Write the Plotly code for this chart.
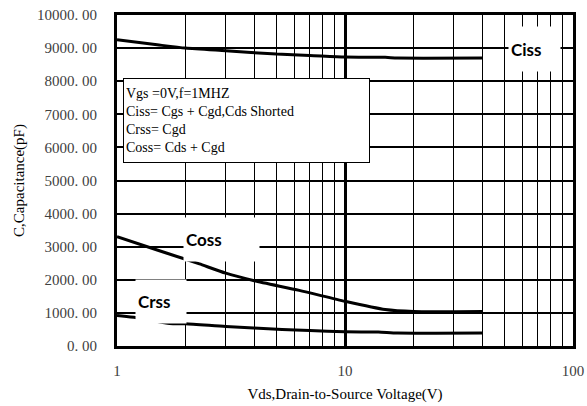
import plotly.graph_objects as go

# Capacitance vs. drain-to-source voltage (Vgs = 0 V, f = 1 MHz)
vds_ciss = [1, 1.5, 2, 3, 5, 7, 10, 15, 17, 40]
ciss = [9250, 9100, 9000, 8920, 8820, 8780, 8730, 8720, 8700, 8700]

vds_coss = [1, 1.5, 2, 2.3, 3, 4, 6.3, 10, 15, 20, 40]
coss = [3300, 2900, 2620, 2480, 2200, 1970, 1680, 1350, 1100, 1040, 1040]

vds_crss = [1, 1.3, 1.7, 2, 3, 5.3, 7, 10, 14, 17, 40]
crss = [920, 830, 680, 670, 590, 500, 470, 430, 420, 390, 390]

y_ticks = list(range(0, 10001, 1000))
y_tick_text = [f"{v:.2f}".replace(".", ". ") for v in y_ticks]
x_ticks = [1, 10, 100]
x_tick_text = ["1", "10", "100"]
x_minor = [2, 3, 4, 5, 6, 7, 8, 9, 20, 30, 40, 50, 60, 70, 80, 90]

fig = go.Figure()
for xs, ys in [(vds_ciss, ciss), (vds_coss, coss), (vds_crss, crss)]:
    fig.add_trace(go.Scatter(x=xs, y=ys, mode="lines",
                             line=dict(color="black", width=3, shape="spline", smoothing=0.6),
                             showlegend=False, hoverinfo="skip"))

label_font = dict(family="Lato, Open Sans, sans-serif", size=17, color="black")
serif = "Liberation Serif, Times New Roman, serif"

# curve labels on white patches (x positions in log10 units)
fig.add_annotation(x=1.715, y=8960, xref="x", yref="y", text="<b>Ciss</b>", showarrow=False,
                   xanchor="left", yanchor="middle", font=label_font, bgcolor="white",
                   borderpad=2, width=47, height=40, align="left")
fig.add_annotation(x=0.2895, y=3230, xref="x", yref="y", text="<b>Coss</b>", showarrow=False,
                   xanchor="left", yanchor="middle", font=label_font, bgcolor="white",
                   borderpad=2, width=71, height=39, align="left")
fig.add_annotation(x=0.079, y=1335, xref="x", yref="y", text="<b>Crss</b>", showarrow=False,
                   xanchor="left", yanchor="middle", font=label_font, bgcolor="white",
                   borderpad=2, width=46, height=39, align="left")

# test-condition box
fig.add_annotation(x=0.026, y=6810, xref="x", yref="y",
                   text="Vgs =0V,f=1MHZ<br>Ciss= Cgs + Cgd,Cds Shorted<br>Crss= Cgd<br>Coss= Cds + Cgd",
                   showarrow=False, xanchor="left", yanchor="middle", align="left",
                   font=dict(family=serif, size=14, color="black"),
                   bgcolor="white", bordercolor="black", borderwidth=1, borderpad=2,
                   width=241, height=79)

fig.update_xaxes(type="log", range=[0, 2], tickmode="array", tickvals=x_ticks, ticktext=x_tick_text,
                 showgrid=True, gridcolor="black", gridwidth=3,
                 minor=dict(tickmode="array", tickvals=x_minor, showgrid=True,
                            gridcolor="black", gridwidth=1, ticklen=0),
                 showline=True, linecolor="black", linewidth=3, mirror=True,
                 ticks="", zeroline=False, ticklabelstandoff=9, automargin=False,
                 tickfont=dict(family=serif, size=15, color="#404040"),
                 title=dict(text="Vds,Drain-to-Source Voltage(V)",
                            font=dict(family=serif, size=15, color="black"), standoff=11))
fig.update_yaxes(range=[0, 10000], tickmode="array", tickvals=y_ticks, ticktext=y_tick_text,
                 showgrid=True, gridcolor="black", gridwidth=2,
                 showline=True, linecolor="black", linewidth=3, mirror=True,
                 ticks="", zeroline=False, ticklabelstandoff=14, automargin=False,
                 tickfont=dict(family=serif, size=15, color="#404040"),
                 title=dict(text="C,Capacitance(pF)",
                            font=dict(family=serif, size=15, color="black"), standoff=9))

fig.update_layout(width=587, height=406, paper_bgcolor="white", plot_bgcolor="white",
                  margin=dict(l=117, r=14, t=15, b=60))

fig.write_html("out.html")
